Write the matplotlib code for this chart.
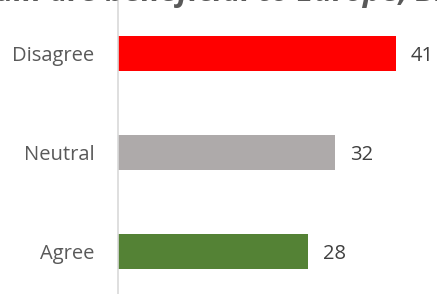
import matplotlib
matplotlib.use("Agg")
import matplotlib.pyplot as plt

categories = ["Agree", "Neutral", "Disagree"]
values = [28, 32, 41]
colors = ["#548235", "#AEAAAA", "#FF0000"]
title_text = "Britain are beneficial to Europe, Britain"

plt.rcParams['font.family'] = ['Open Sans', 'DejaVu Sans']

fig = plt.figure(figsize=(4.37, 2.94), dpi=100)
ax = fig.add_axes([118 / 437, 0, 1 - 118 / 437, 1])

y = range(len(categories))
ax.barh(y, values, height=0.355, color=colors)
for yi, v in zip(y, values):
    ax.annotate(str(v), (v, yi), xytext=(11, 0), textcoords="offset points",
                va="center_baseline", ha="left", fontsize=14.5, color="#404040")

ax.set_xlim(0, 47.1)
ax.set_ylim(-0.43, 2.54)
ax.set_yticks(list(y))
ax.set_yticklabels(categories, fontsize=14.5, color="#595959")
ax.tick_params(axis="y", length=0, pad=17)
ax.set_xticks([])
for side in ["top", "right", "bottom"]:
    ax.spines[side].set_visible(False)
ax.spines["left"].set_color("#D9D9D9")
ax.spines["left"].set_linewidth(1.2)

fig.text(-0.135, 1 - 1.5 / 294, title_text, fontsize=22.3, style="italic",
         fontweight="bold", color="#595959", va="baseline", ha="left")

fig.savefig("out.png", dpi=100)
